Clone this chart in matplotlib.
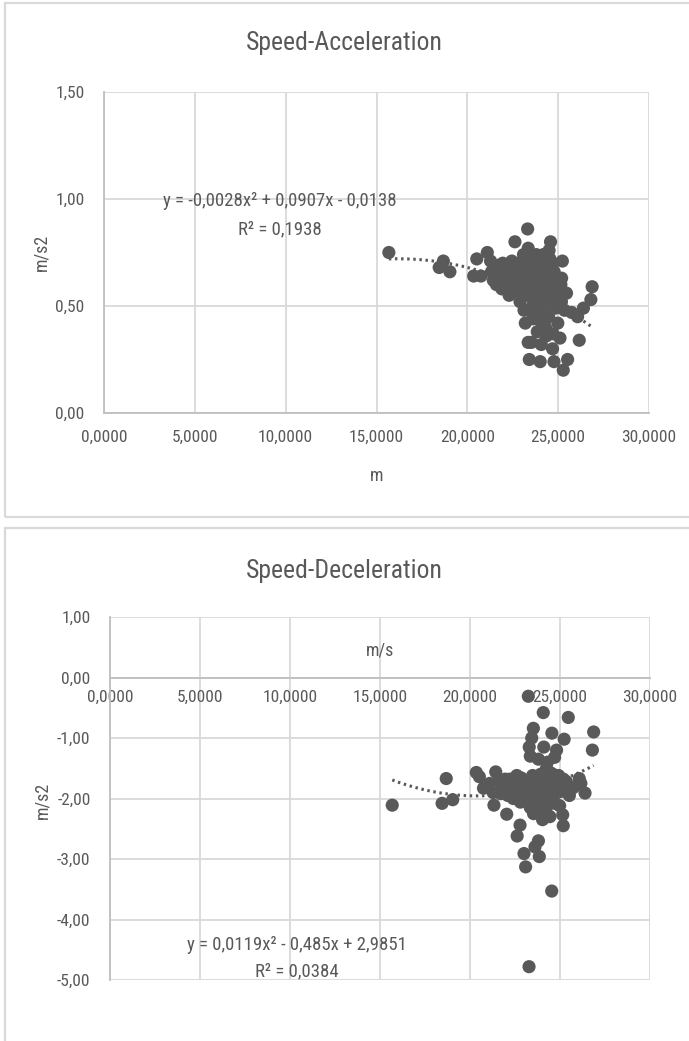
import numpy as np
import matplotlib.pyplot as plt
from matplotlib.patches import Rectangle
from matplotlib.ticker import FuncFormatter

plt.rcParams['font.family'] = ['Liberation Sans Narrow', 'Roboto Condensed',
                               'Liberation Sans', 'DejaVu Sans']

# speed (m/s) with matching acceleration and deceleration (m/s2)
speed = [15.68, 18.45, 18.68, 19.04, 20.35, 20.52, 20.75, 21.10, 21.28, 21.33,
         21.43, 21.60, 21.75, 21.90, 22.04, 22.10, 22.20, 22.30, 22.40, 22.50,
         22.62, 22.70, 22.78, 22.85, 22.90, 23.00, 23.05, 23.09, 23.12, 23.19,
         23.24, 23.28, 23.29, 23.32, 23.35, 23.41, 23.43, 23.48, 23.52, 23.53,
         23.58, 23.61, 23.66, 23.70, 23.75, 23.80, 23.85, 23.88, 23.92, 23.96,
         24.01, 24.03, 24.07, 24.10, 24.14, 24.18, 24.22, 24.26, 24.30, 24.34,
         24.38, 24.44, 24.48, 24.54, 24.55, 24.58, 24.62, 24.69, 24.72, 24.77,
         24.78, 24.81, 24.86, 24.92, 24.98, 25.05, 25.10, 25.15, 25.18, 25.19,
         25.23, 25.28, 25.35, 25.46, 25.52, 25.74, 26.07, 26.16, 26.39, 26.80,
         26.87, 22.95, 23.15, 23.38, 23.55, 23.72, 23.90, 24.05, 24.20, 24.40,
         24.65, 24.90, 23.60, 23.85, 24.10, 24.35, 22.60, 22.80, 24.25, 24.50,
         24.60, 23.35, 23.80, 24.70, 21.70, 22.25, 21.95, 22.45]
accel = [0.75, 0.68, 0.71, 0.66, 0.64, 0.72, 0.64, 0.75, 0.71, 0.66,
         0.62, 0.60, 0.65, 0.58, 0.63, 0.68, 0.61, 0.55, 0.66, 0.59,
         0.80, 0.63, 0.57, 0.70, 0.52, 0.66, 0.60, 0.74, 0.48, 0.42,
         0.69, 0.55, 0.62, 0.86, 0.33, 0.25, 0.72, 0.58, 0.65, 0.33,
         0.50, 0.68, 0.54, 0.61, 0.46, 0.70, 0.57, 0.44, 0.63, 0.52,
         0.24, 0.66, 0.32, 0.58, 0.48, 0.74, 0.55, 0.62, 0.40, 0.68,
         0.51, 0.59, 0.45, 0.64, 0.72, 0.80, 0.53, 0.30, 0.37, 0.24,
         0.66, 0.57, 0.49, 0.61, 0.42, 0.55, 0.35, 0.60, 0.52, 0.63,
         0.71, 0.20, 0.48, 0.56, 0.25, 0.47, 0.45, 0.34, 0.49, 0.53,
         0.59, 0.64, 0.58, 0.62, 0.70, 0.64, 0.55, 0.60, 0.66, 0.56,
         0.60, 0.52, 0.44, 0.38, 0.42, 0.36, 0.62, 0.68, 0.70, 0.76,
         0.68, 0.77, 0.74, 0.70, 0.69, 0.64, 0.70, 0.71]
decel = [-2.11, -2.08, -1.67, -2.02, -1.57, -1.64, -1.83, -1.75, -1.90, -2.11,
         -1.56, -1.70, -1.85, -1.78, -2.26, -1.95, -1.68, -1.82, -2.00, -1.74,
         -2.62, -1.88, -2.44, -1.66, -1.95, -2.91, -1.80, -3.13, -1.72, -2.05,
         -0.31, -4.78, -1.15, -1.90, -2.15, -1.85, -1.00, -1.62, -0.84, -2.25,
         -1.78, -2.80, -1.95, -1.70, -2.10, -2.70, -2.96, -1.88, -1.60, -2.02,
         -1.76, -2.35, -0.58, -1.15, -1.92, -1.68, -2.18, -1.82, -1.40, -2.00,
         -1.72, -2.30, -1.86, -3.53, -0.92, -1.78, -1.95, -1.65, -2.08, -1.80,
         -1.70, -1.20, -1.90, -1.62, -2.12, -1.75, -1.88, -2.27, -2.45, -1.68,
         -1.02, -1.85, -1.72, -0.66, -1.95, -1.82, -1.67, -1.75, -1.91, -1.20,
         -0.90, -1.75, -1.92, -1.70, -1.85, -1.98, -1.72, -1.88, -1.62, -1.78,
         -1.85, -1.74, -2.15, -2.05, -2.22, -1.98, -1.62, -2.06, -1.50, -1.58,
         -1.60, -1.30, -1.35, -1.32, -1.92, -1.76, -1.68, -1.90]

# polynomial trendline coefficients (a*x^2 + b*x + c)
accel_fit = [-0.0028, 0.0907, -0.0138]
decel_fit = [0.0119, -0.485, 2.9851]
accel_r2 = 0.1938
decel_r2 = 0.0384

xticks = [0, 5, 10, 15, 20, 25, 30]
accel_yticks = [0, 0.5, 1.0, 1.5]
decel_yticks = [-5, -4, -3, -2, -1, 0, 1]

TXT = '#595959'
GRID = '#d9d9d9'
AXIS = '#bfbfbf'
FS = 13


def comma(fmt):
    return FuncFormatter(lambda v, p: (fmt % v).replace('.', ','))


def num(v, d):
    return ('%.*f' % (d, abs(v))).replace('.', ',')


def eq_text(coef):
    a, b, c = coef
    s = 'y = ' + ('-' if a < 0 else '') + num(a, 4) + 'x²'
    s += (' - ' if b < 0 else ' + ') + num(b, 4 if abs(b) < 0.1 else 3) + 'x'
    s += (' - ' if c < 0 else ' + ') + num(c, 4)
    return s


def style(ax, yticks):
    ax.set_xlim(0, 30)
    ax.set_ylim(yticks[0], yticks[-1])
    ax.set_xticks(xticks)
    ax.set_yticks(yticks)
    ax.xaxis.set_major_formatter(comma('%.4f'))
    ax.yaxis.set_major_formatter(comma('%.2f'))
    ax.grid(True, color=GRID, lw=1.3)
    ax.set_axisbelow(True)
    ax.tick_params(length=0, labelsize=12.5, labelcolor=TXT)
    ax.tick_params(axis='y', pad=14)
    ax.tick_params(axis='x', pad=12)
    for s in ['top', 'right']:
        ax.spines[s].set_visible(False)
    for s in ['left', 'bottom']:
        ax.spines[s].set_color(AXIS)
        ax.spines[s].set_linewidth(1.3)


def draw(ax, y, coef):
    ax.scatter(speed, y, s=90, color=TXT, edgecolors='none', zorder=3)
    xs = np.linspace(min(speed), max(speed), 200)
    ax.plot(xs, np.polyval(coef, xs), color=TXT, lw=2.2,
            linestyle=(0, (0.8, 1.2)), zorder=4)


fig = plt.figure(figsize=(6.89, 10.41), dpi=100)
W, H = 689, 1041

# chart frames
fig.patches.append(Rectangle((5 / W, 1 - 517 / H), 720 / W, 514 / H,
                             transform=fig.transFigure, fill=False,
                             ec=GRID, lw=1.6))
fig.patches.append(Rectangle((5 / W, -0.05), 720 / W, 0.05 + 1 - 528 / H,
                             transform=fig.transFigure, fill=False,
                             ec=GRID, lw=1.6))

# acceleration
ax1 = fig.add_axes([104 / W, 1 - 413 / H, 545 / W, 321 / H])
style(ax1, accel_yticks)
draw(ax1, accel, accel_fit)
ax1.text(0.5, -0.196, 'm', transform=ax1.transAxes, ha='center',
         va='center', fontsize=FS, color=TXT)
ax1.text(-0.114, 0.5, 'm/s2', transform=ax1.transAxes, ha='center',
         va='center', rotation=90, fontsize=FS, color=TXT)
ax1.text(9.7, 0.99, eq_text(accel_fit), ha='center', va='center',
         fontsize=13.5, color=TXT)
ax1.text(9.7, 0.86, 'R² = ' + num(accel_r2, 4), ha='center', va='center',
         fontsize=13.5, color=TXT)
fig.text(0.5, 1 - 43 / H, 'Speed-Acceleration', ha='center', va='center',
         fontsize=18.5, color=TXT)

# deceleration
ax2 = fig.add_axes([110 / W, 1 - 980 / H, 540 / W, 363 / H])
style(ax2, decel_yticks)
ax2.spines['bottom'].set_position(('data', 0))
ax2.tick_params(axis='x', pad=9)
draw(ax2, decel, decel_fit)
ax2.text(15.0, 0.45, 'm/s', ha='center', va='center', fontsize=FS, color=TXT)
ax2.text(-0.126, 0.496, 'm/s2', transform=ax2.transAxes, ha='center',
         va='center', rotation=90, fontsize=FS, color=TXT)
ax2.text(10.4, -4.42, eq_text(decel_fit), ha='center', va='center',
         fontsize=13.5, color=TXT)
ax2.text(10.4, -4.86, 'R² = ' + num(decel_r2, 4), ha='center', va='center',
         fontsize=13.5, color=TXT)
fig.text(0.5, 1 - 571 / H, 'Speed-Deceleration', ha='center', va='center',
         fontsize=18.5, color=TXT)

fig.savefig('out.png', dpi=100)
